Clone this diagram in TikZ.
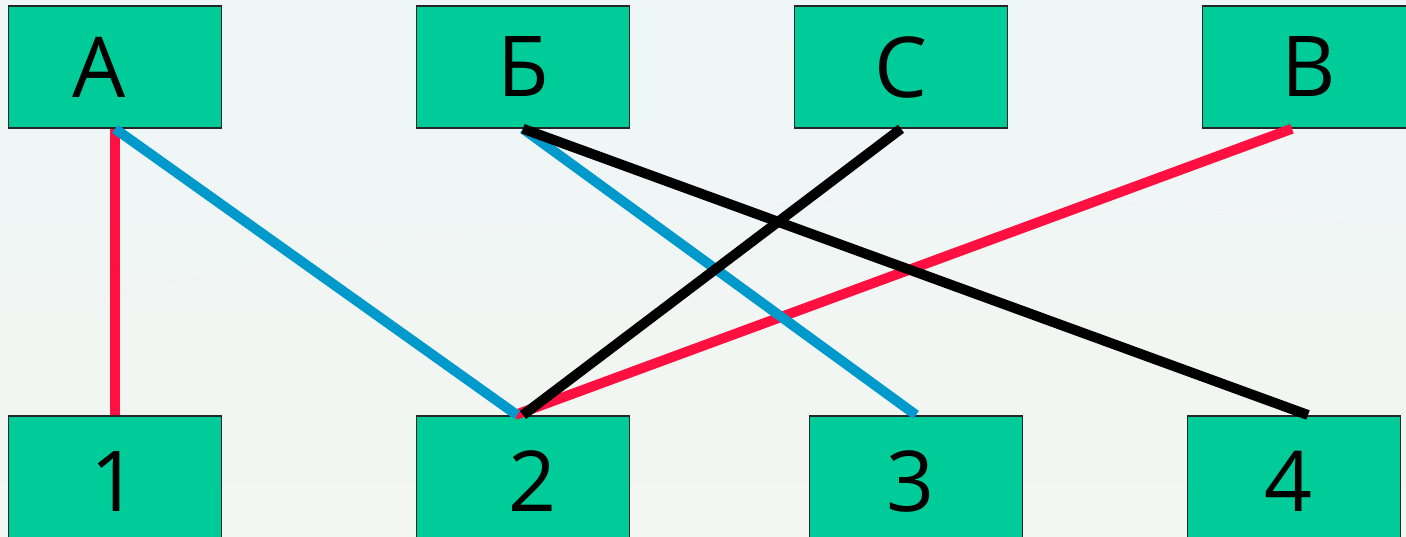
\documentclass[tikz,border=0pt]{standalone}
\usepackage{fontspec}
\newfontfamily\boxfont{Open Sans}
\definecolor{boxgreen}{HTML}{00CC99}
\definecolor{lred}{HTML}{FF1040}
\definecolor{lblue}{HTML}{0099CC}
\definecolor{bgtop}{HTML}{EEF6F7}
\definecolor{bgbot}{HTML}{F3F6F1}
\begin{document}
\begin{tikzpicture}[x=1pt,y=-1pt,
  card/.style={draw=black!85, line width=1.5pt, fill=boxgreen, minimum width=213pt, minimum height=122pt,
    inner sep=0pt, font=\boxfont\fontsize{84}{90}\selectfont, text=black},
  lowcard/.style={card, minimum height=140pt, anchor=north},
  link/.style={line width=10pt},
]
\useasboundingbox (0,0) rectangle (1406,536);
\shade[top color=bgtop, bottom color=bgbot] (0,0) rectangle (1406,536);
\draw[white!70!gray!40, line width=1pt, opacity=0.5] (0,330) .. controls (400,200) and (1000,170) .. (1406,230);
% top row
\node[card] (A) at (115,67) {\hspace*{-32pt}А};
\node[card] (B) at (523,67) {Б};
\node[card] (C) at (901,67) {С};
\node[card] (V) at (1309,67) {В};
% bottom row
\node[lowcard] (n1) at (115,415) {\raisebox{9pt}{1}};
\node[lowcard] (n2) at (523,415) {\raisebox{9pt}{\hspace*{20pt}2}};
\node[lowcard] (n3) at (916,415) {\raisebox{9pt}{\hspace*{-10pt}3}};
\node[lowcard] (n4) at (1294,415) {\raisebox{9pt}{\hspace*{-10pt}4}};
% connectors
\draw[link, lred] (A.south) -- (n1.north);
\draw[link, lred] ([xshift=-17pt]V.south) -- ([xshift=-8pt]n2.north);
\draw[link, lblue] (A.south) -- ([xshift=-6pt]n2.north);
\draw[link, lblue] (B.south) -- (n3.north);
\draw[link, black] (B.south) -- ([xshift=14pt]n4.north);
\draw[link, black] (C.south) -- (n2.north);
\end{tikzpicture}
\end{document}
